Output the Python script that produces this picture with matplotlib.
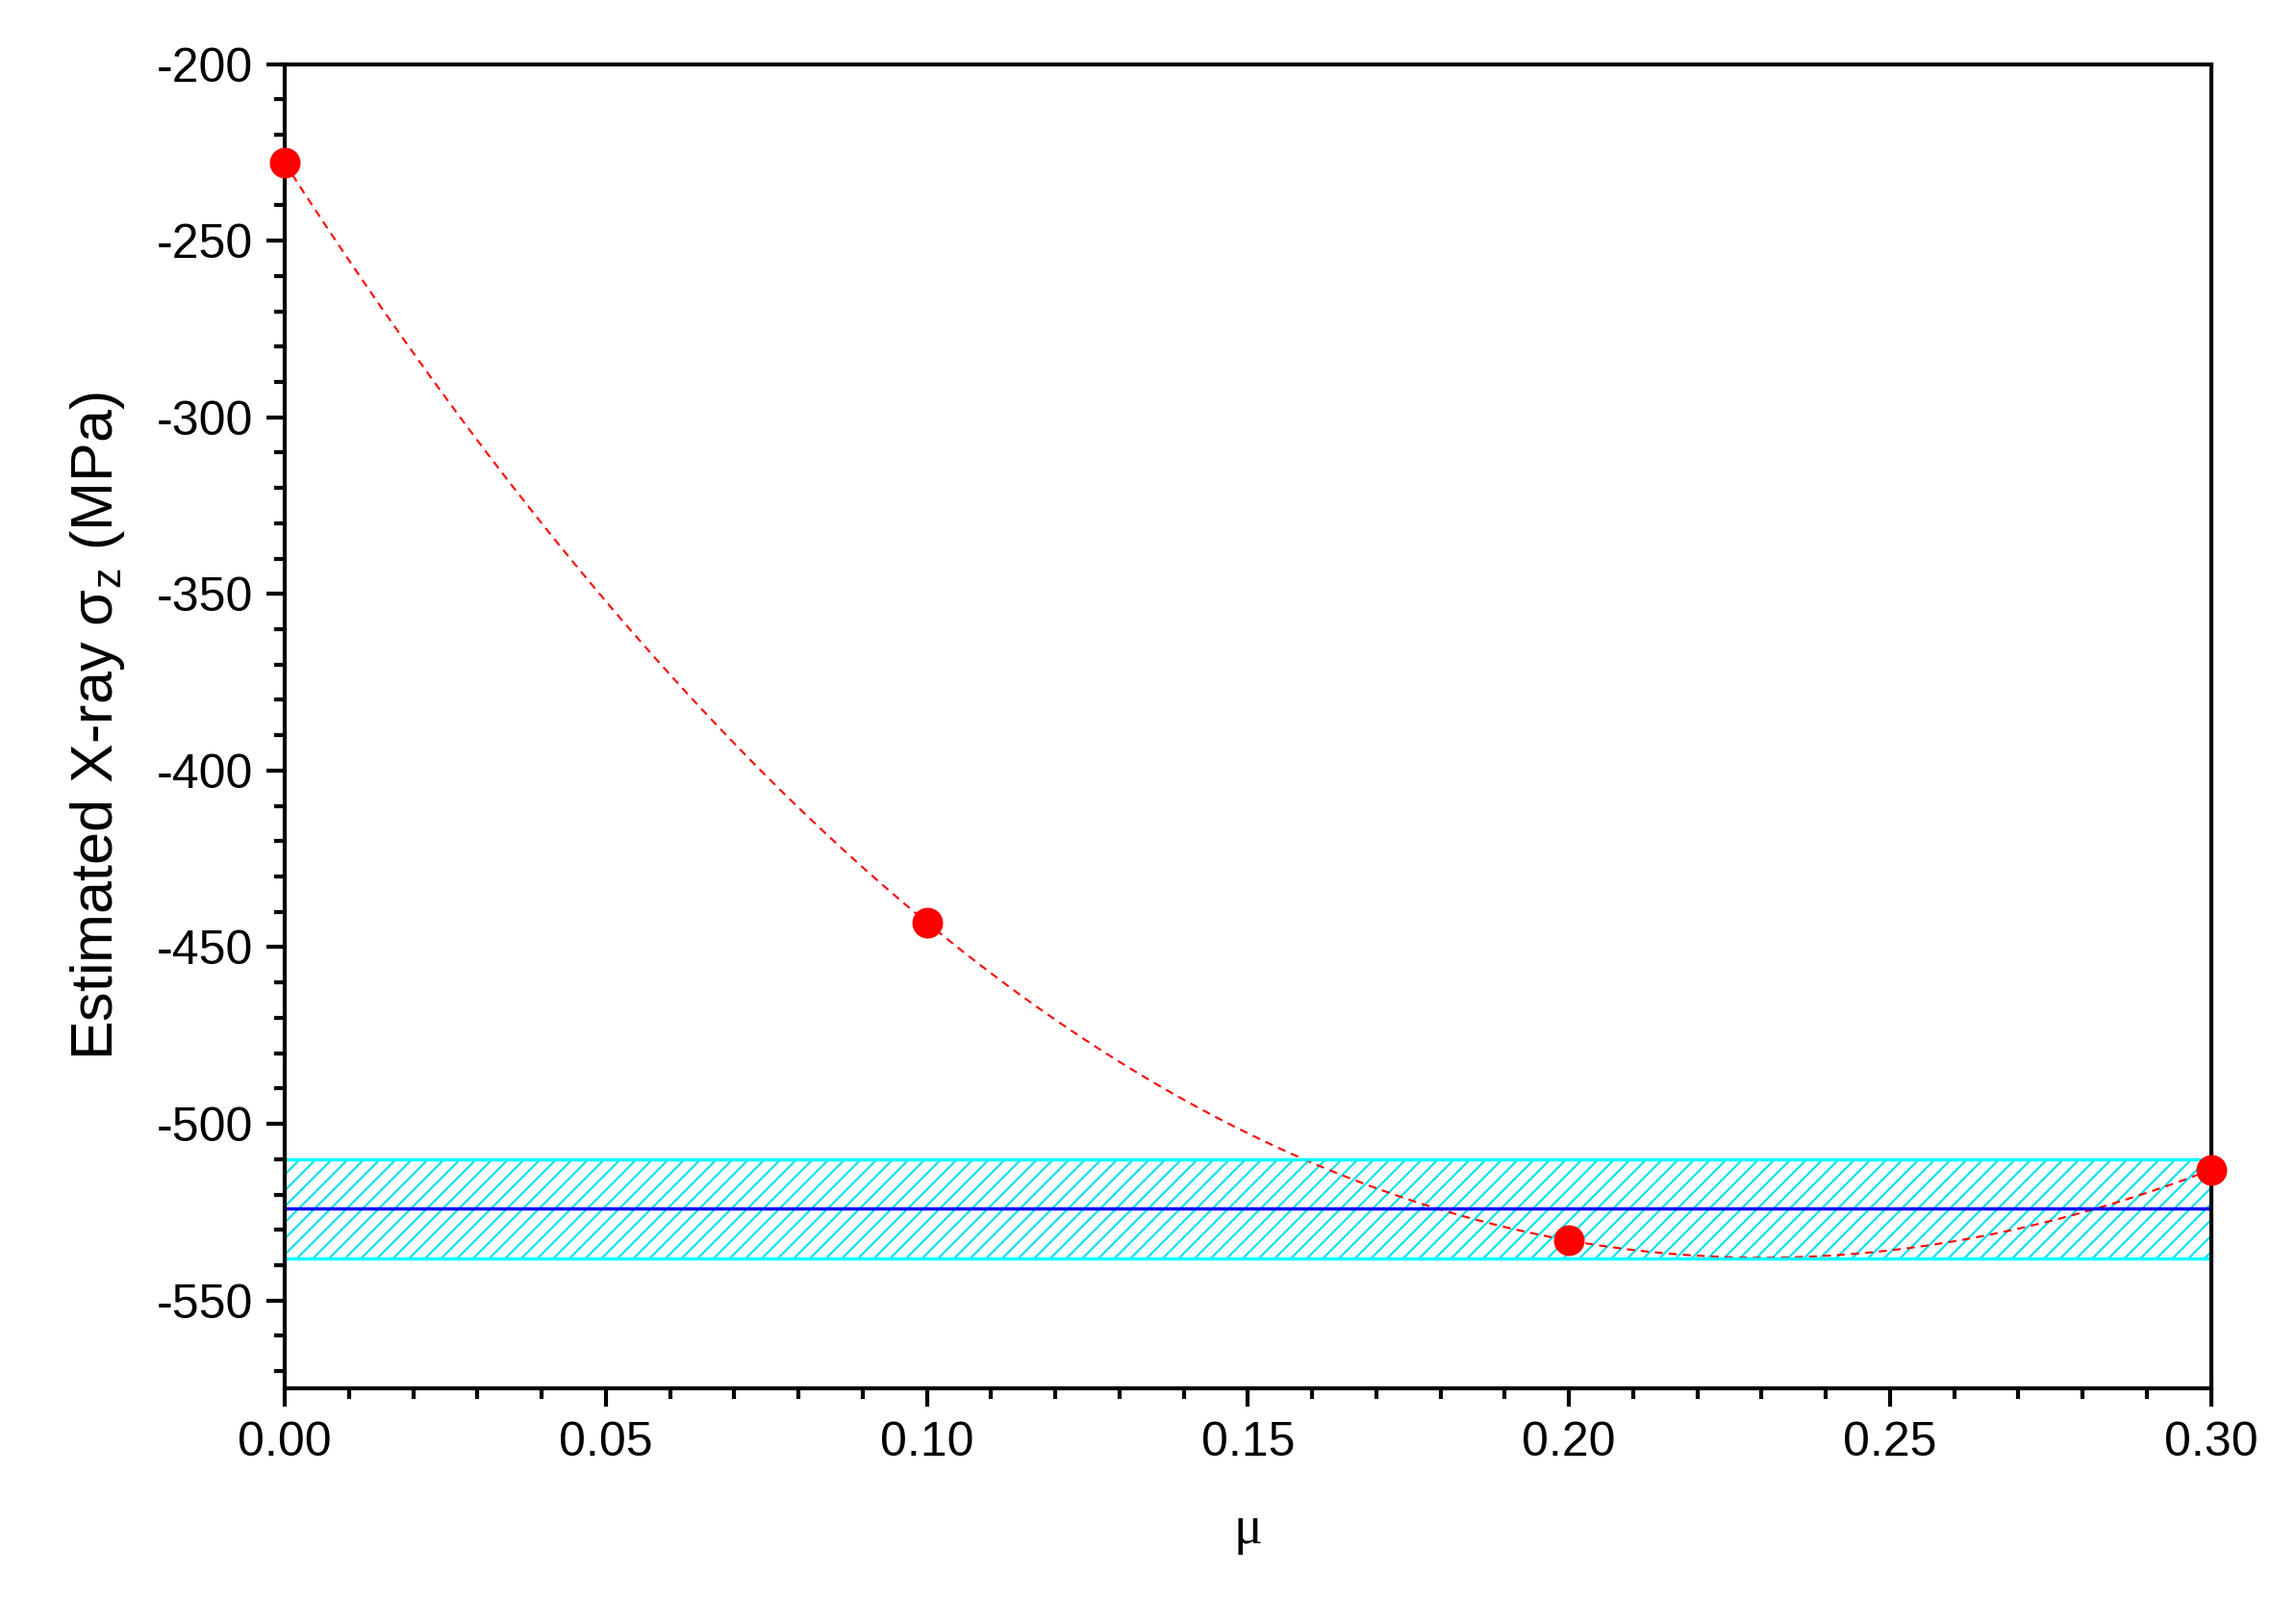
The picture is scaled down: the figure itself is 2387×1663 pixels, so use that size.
import matplotlib

matplotlib.use("Agg")
import matplotlib.pyplot as plt
import numpy as np
from matplotlib.ticker import MultipleLocator, FormatStrFormatter

plt.rcParams["font.family"] = ["Liberation Sans", "DejaVu Sans"]
plt.rcParams["axes.unicode_minus"] = False
plt.rcParams["hatch.color"] = "#00e0f0"
plt.rcParams["hatch.linewidth"] = 1.5

mu = [0.0, 0.1, 0.2, 0.3]
sigma_z = [-228, -443, -533, -513]
band_low, band_high, band_mid = -538, -510, -524

fig = plt.figure(figsize=(23.87, 16.63), dpi=100)
ax = fig.add_axes([0.124, 0.132, 0.839, 0.828])

# smooth cubic through the four points
coef = np.polyfit(mu, sigma_z, 3)
xs = np.linspace(0, 0.3, 300)
ax.plot(xs, np.polyval(coef, xs), "--", color="red", linewidth=1.5, dashes=(4, 3))
ax.plot(mu, sigma_z, "o", color="red", markersize=22, clip_on=False, zorder=4)

ax.fill_between([0, 0.3], band_low, band_high, facecolor="none", edgecolor="#00e0f0",
                hatch="//", linewidth=0)
ax.axhline(band_low, color="cyan", linewidth=2.5)
ax.axhline(band_high, color="cyan", linewidth=2.5)
ax.axhline(band_mid, color="blue", linewidth=2.5)

ax.set_xlim(0, 0.3)
ax.set_ylim(-575, -200)
ax.xaxis.set_major_locator(MultipleLocator(0.05))
ax.xaxis.set_minor_locator(MultipleLocator(0.01))
ax.yaxis.set_major_locator(MultipleLocator(50))
ax.yaxis.set_minor_locator(MultipleLocator(10))
ax.xaxis.set_major_formatter(FormatStrFormatter("%.2f"))
ax.tick_params(which="major", length=14, width=3, labelsize=36, pad=10)
ax.tick_params(which="minor", length=8, width=3)
for s in ax.spines.values():
    s.set_linewidth(3)

ax.set_xlabel("μ", fontsize=40, family=["Liberation Serif", "DejaVu Serif"], labelpad=30)
ax.set_ylabel(r"Estimated X-ray $\mathregular{\sigma_z}$ (MPa)", fontsize=44, labelpad=22)

fig.savefig("out.png", dpi=100)
